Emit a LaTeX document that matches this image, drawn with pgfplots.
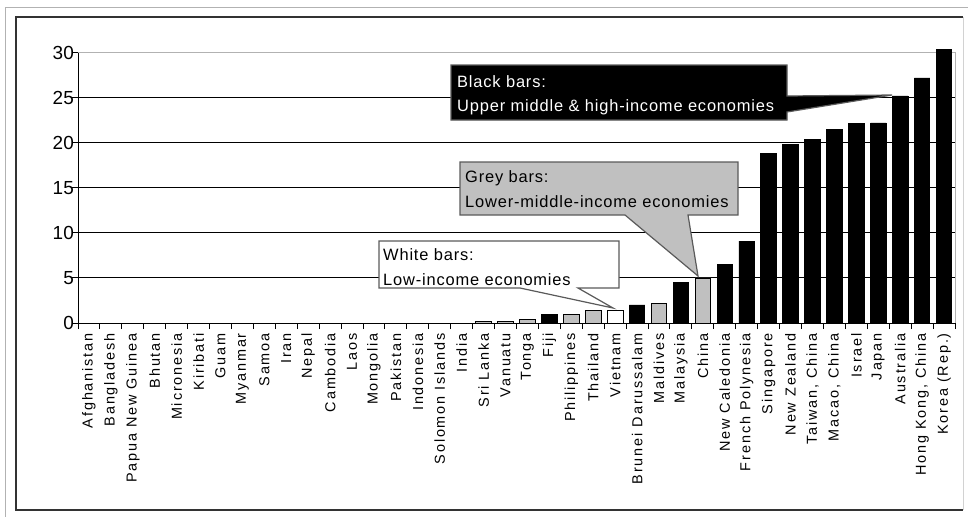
\documentclass[border=0pt]{standalone}
\usepackage{fontspec}
\setmainfont{Liberation Sans}
\newfontfamily\xlabfont{Liberation Sans}[LetterSpace=13]
\newfontfamily\callfont{Liberation Sans}[LetterSpace=5]
\usepackage{pgfplots}
\pgfplotsset{compat=1.18}
\definecolor{bargrey}{RGB}{192,192,192}
\definecolor{edgegrey}{RGB}{90,90,90}

\begin{document}
\begin{tikzpicture}
\useasboundingbox (0,0) rectangle (968bp,-517bp);
% outer frame
\draw[gray!60, line width=1bp] (5bp,-517bp) -- (5bp,-7bp) -- (968bp,-7bp);
\draw[black!80, line width=1.2bp] (963bp,-17bp) -- (16bp,-17bp) -- (16bp,-510bp) -- (963bp,-510bp);
\draw[gray!35, line width=1bp] (963bp,-17bp) -- (963bp,-510bp);
\begin{axis}[
  scale only axis, width=877bp, height=270.3bp,
  at={(78bp,-323bp)}, anchor=south west,
  xmin=-0.5, xmax=39.5, ymin=0, ymax=30,
  axis x line*=bottom, axis y line*=left,
  axis line style={black, line width=1bp},
  xtick={-0.5,0.5,...,39.5},
  x tick label as interval,
  xticklabels={Afghanistan,Bangladesh,Papua New Guinea,Bhutan,Micronesia,Kiribati,Guam,Myanmar,Samoa,Iran,Nepal,Cambodia,Laos,Mongolia,Pakistan,Indonesia,Solomon Islands,India,Sri Lanka,Vanuatu,Tonga,Fiji,Philippines,Thailand,Vietnam,Brunei Darussalam,Maldives,Malaysia,China,New Caledonia,French Polynesia,Singapore,New Zealand,{Taiwan, China},{Macao, China},Israel,Japan,Australia,{Hong Kong, China},Korea (Rep.)},
  xticklabel style={rotate=90, anchor=east, inner sep=0pt, xshift=-4bp, font=\xlabfont\fontsize{14.5}{14.5}\selectfont},
  ytick={0,5,...,30},
  yticklabel style={anchor=east, inner sep=0pt, xshift=2bp, font=\fontsize{19}{19}\selectfont},
  /pgf/number format/assume math mode=true,
  tick align=outside,
  major tick length=6bp,
  tick style={black, line width=1bp},
  ymajorgrids, grid style={black, line width=1bp},
  clip=false,
  ybar, bar width=15.5bp,
]
\draw[gray!60, line width=1bp] (rel axis cs:0,1) -- (rel axis cs:1,1) -- (rel axis cs:1,0);
% upper middle & high income (black)
\addplot[bar shift=0pt, fill=black, draw=black, line width=0.8bp] coordinates {
  (21,0.95) (25,2.0) (27,4.5) (29,6.5) (30,9.1) (31,18.8) (32,19.8) (33,20.4)
  (34,21.5) (35,22.1) (36,22.2) (37,25.2) (38,27.2) (39,30.4)};
% lower-middle income (grey)
\addplot[bar shift=0pt, fill=bargrey, draw=black, line width=0.8bp] coordinates {
  (18,0.2) (19,0.2) (20,0.4) (22,0.95) (23,1.35) (26,2.2) (28,5.0)};
% low income (white)
\addplot[bar shift=0pt, fill=white, draw=black, line width=0.8bp] coordinates {
  (24,1.4)};
\end{axis}
% callouts
\draw[edgegrey, line width=1.2bp, fill=black]
  (451bp,-65bp) -- (787bp,-65bp) -- (787bp,-96bp) -- (892bp,-95bp) -- (787bp,-112bp)
  -- (787bp,-120bp) -- (451bp,-120bp) -- cycle;
\node[anchor=base west, inner sep=0pt, text=white, font=\callfont\fontsize{16.5}{16.5}\selectfont] at (457bp,-87.7bp) {Black bars:};
\node[anchor=base west, inner sep=0pt, text=white, font=\callfont\fontsize{16.5}{16.5}\selectfont] at (457bp,-111.7bp) {Upper middle \& high-income economies};
\draw[edgegrey, line width=1.2bp, fill=bargrey]
  (460bp,-162bp) -- (738bp,-162bp) -- (738bp,-215bp) -- (688bp,-215bp) -- (698bp,-276bp)
  -- (625bp,-215bp) -- (460bp,-215bp) -- cycle;
\node[anchor=base west, inner sep=0pt, font=\callfont\fontsize{16.5}{16.5}\selectfont] at (465bp,-182.3bp) {Grey bars:};
\node[anchor=base west, inner sep=0pt, font=\callfont\fontsize{16.5}{16.5}\selectfont] at (465bp,-207.3bp) {Lower-middle-income economies};
\draw[edgegrey, line width=1.2bp, fill=white]
  (379bp,-241bp) -- (619bp,-241bp) -- (619bp,-288bp) -- (578bp,-288bp) -- (613bp,-308bp)
  -- (520bp,-288bp) -- (379bp,-288bp) -- cycle;
\node[anchor=base west, inner sep=0pt, font=\callfont\fontsize{16.5}{16.5}\selectfont] at (383bp,-260.7bp) {White bars:};
\node[anchor=base west, inner sep=0pt, font=\callfont\fontsize{16.5}{16.5}\selectfont] at (383bp,-285bp) {Low-income economies};
\end{tikzpicture}
\end{document}
